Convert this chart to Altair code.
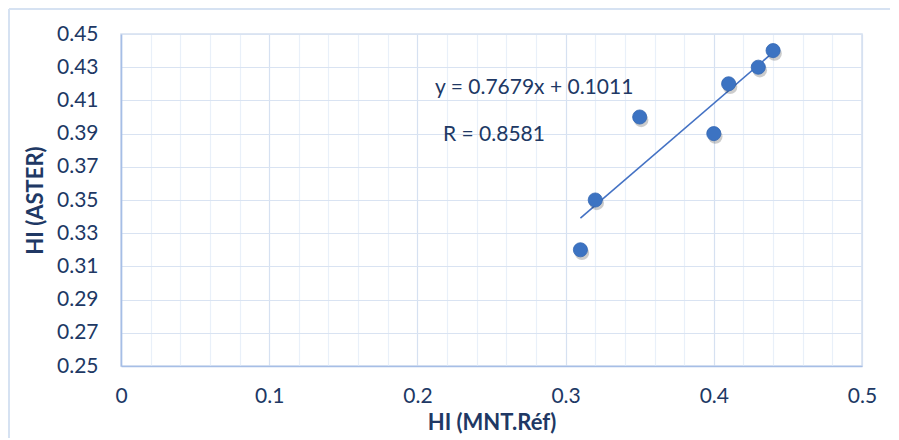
import altair as alt
import pandas as pd

# ---- data ----
hi_mnt = [0.31, 0.32, 0.35, 0.40, 0.41, 0.43, 0.44]
hi_aster = [0.32, 0.35, 0.40, 0.39, 0.42, 0.43, 0.44]
x_ticks = [0.0, 0.02, 0.04, 0.06, 0.08, 0.1, 0.12, 0.14, 0.16, 0.18, 0.2,
           0.22, 0.24, 0.26, 0.28, 0.3, 0.32, 0.34, 0.36, 0.38, 0.4,
           0.42, 0.44, 0.46, 0.48, 0.5]
y_ticks = [0.25, 0.27, 0.29, 0.31, 0.33, 0.35, 0.37, 0.39, 0.41, 0.43, 0.45]
eq_label = ["y = 0.7679x + 0.1011"]
r_label = ["R = 0.8581"]

df = pd.DataFrame({"x": hi_mnt, "y": hi_aster})

FONT = "Lato"
TXT = "#203864"
PT = "#3c73c2"
W, H = 741, 332

xs = alt.Scale(domain=[0, 0.5], nice=False, zero=False)
ys = alt.Scale(domain=[0.25, 0.45], nice=False, zero=False)

x_axis = alt.Axis(
    values=x_ticks,
    labelExpr="round(datum.value*100) % 10 == 0 ? format(datum.value, '~g') : ''",
    title="HI (MNT.Réf)",
    ticks=False,
    labelFlush=False,
    labelPadding=19,
    titlePadding=6,
    gridColor={"condition": {"test": "round(datum.value*100) % 10 == 0", "value": "#d6e1f1"},
               "value": "#e9f0f9"},
)
y_axis = alt.Axis(
    values=y_ticks,
    format=".2f",
    title="HI (ASTER)",
    ticks=False,
    labelPadding=23,
    titlePadding=9,
    gridColor="#d9e3f2",
)

x_enc = alt.X("x:Q", scale=xs, axis=x_axis)
y_enc = alt.Y("y:Q", scale=ys, axis=y_axis)

base = alt.Chart(df)

trend = base.transform_regression("x", "y", method="linear").mark_line(
    color="#4472c4", strokeWidth=1.6
).encode(x=x_enc, y=y_enc)

shadow = base.mark_circle(size=210, color="#000000", opacity=0.2, xOffset=1.5, yOffset=3).encode(
    x=x_enc, y=y_enc
)
points = base.mark_circle(size=200, color=PT, opacity=1, stroke="#3467b3", strokeWidth=0.8).encode(
    x=x_enc, y=y_enc
)

eq = alt.Chart(pd.DataFrame({"t": eq_label})).mark_text(
    align="left", baseline="middle", font=FONT, fontSize=21, color=TXT
).encode(text="t:N", x=alt.value(314), y=alt.value(54))

rr = alt.Chart(pd.DataFrame({"t": r_label})).mark_text(
    align="left", baseline="middle", font=FONT, fontSize=21, color=TXT
).encode(text="t:N", x=alt.value(322), y=alt.value(101))

frame_left = alt.Chart(pd.DataFrame({"a": [0]})).mark_rule(color="#d6e2f2", strokeWidth=2).encode(
    x=alt.value(-112), y=alt.value(-25), y2=alt.value(H + 80)
)
frame_top = alt.Chart(pd.DataFrame({"a": [0]})).mark_rule(color="#d6e2f2", strokeWidth=2).encode(
    x=alt.value(-112), x2=alt.value(W + 60), y=alt.value(-25)
)

chart = alt.layer(frame_left, frame_top, trend, shadow, points, eq, rr).properties(
    width=W,
    height=H,
    autosize=alt.AutoSizeParams(type="none"),
    padding={"left": 113, "top": 26, "right": 28, "bottom": 72},
    background="white",
).configure_view(
    stroke="#d5e0f0", strokeWidth=1.5
).configure_axis(
    labelFont=FONT,
    titleFont=FONT,
    labelFontSize=21,
    titleFontSize=22,
    titleFontWeight="bold",
    labelColor=TXT,
    titleColor=TXT,
    domainColor="#a6bee6",
    domainWidth=1.6,
    gridWidth=1.2,
)

chart.save("out.html", embed_options={"renderer": "svg", "actions": False})
